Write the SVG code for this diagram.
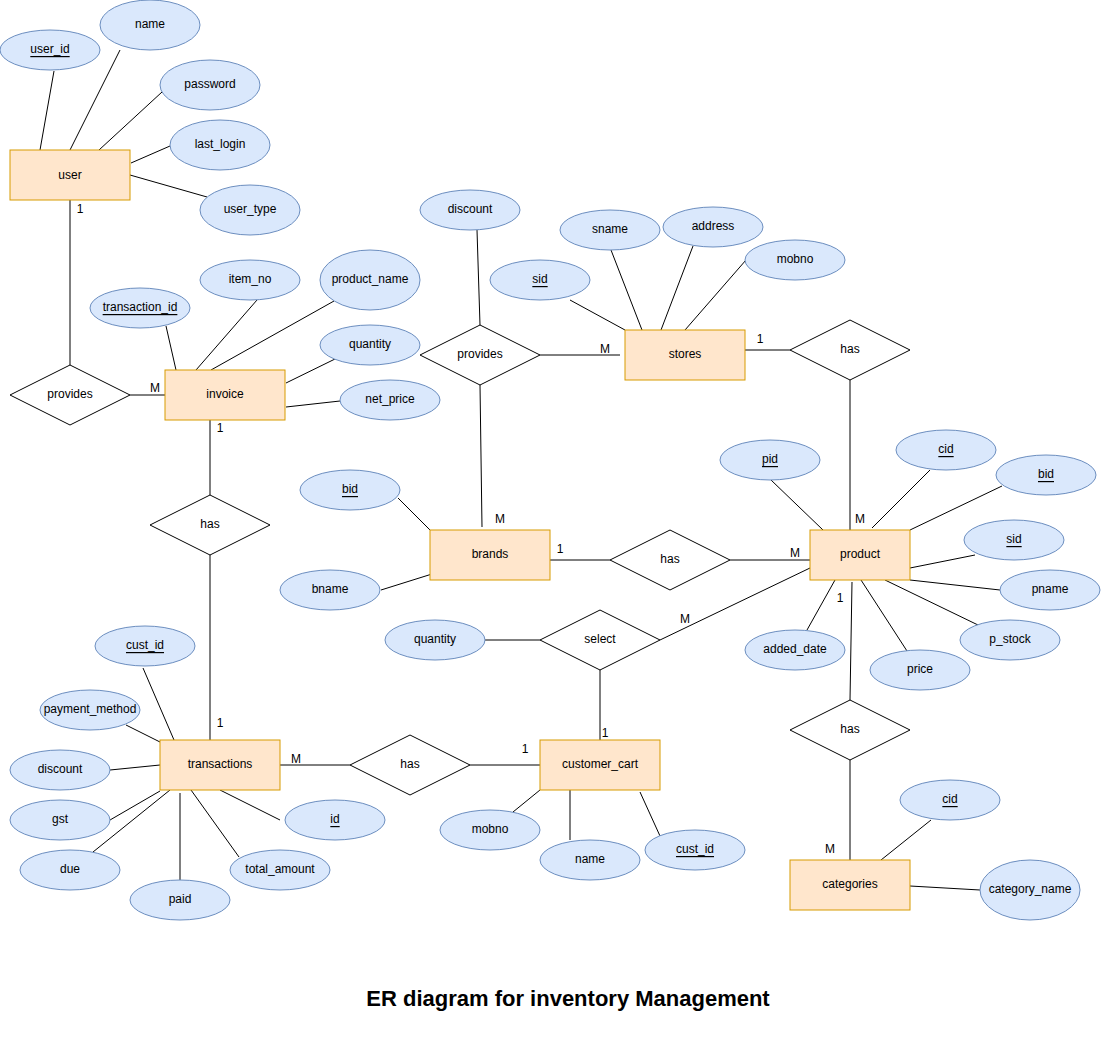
<svg xmlns="http://www.w3.org/2000/svg" width="1101" height="1061" viewBox="0 0 1101 1061">
<style>
.bg{fill:#ffffff}
.ent{fill:#ffe6cc;stroke:#d79b00;stroke-width:1}
.att{fill:#dae8fc;stroke:#6c8ebf;stroke-width:1}
.rel{fill:#ffffff;stroke:#000000;stroke-width:1}
.ln{stroke:#000000;stroke-width:1;fill:none}
text{font-family:"Liberation Sans",Arial,Helvetica,sans-serif;font-size:12px;fill:#000000;text-anchor:middle;dominant-baseline:central}
.key{text-decoration:underline}
.title{font-size:22px;font-weight:bold}
</style>
<rect class="bg" x="0" y="0" width="1101" height="1061"/>
<g id="connectors">
<!-- user attributes -->
<line class="ln" x1="54" y1="71" x2="40" y2="150"/>
<line class="ln" x1="120" y1="50" x2="70" y2="150"/>
<line class="ln" x1="162" y1="92" x2="99" y2="150"/>
<line class="ln" x1="170" y1="146" x2="131" y2="163"/>
<line class="ln" x1="207" y1="197" x2="130" y2="175"/>
<!-- user - provides - invoice -->
<line class="ln" x1="70" y1="200" x2="70" y2="365"/>
<line class="ln" x1="130" y1="395" x2="165" y2="395"/>
<!-- invoice attributes -->
<line class="ln" x1="166" y1="326" x2="176" y2="370"/>
<line class="ln" x1="257" y1="300" x2="196" y2="370"/>
<line class="ln" x1="334" y1="301" x2="211" y2="370"/>
<line class="ln" x1="335" y1="359" x2="286" y2="383"/>
<line class="ln" x1="340" y1="401" x2="286" y2="407"/>
<!-- invoice - has - transactions -->
<line class="ln" x1="210" y1="420" x2="210" y2="495"/>
<line class="ln" x1="210" y1="555" x2="210" y2="740"/>
<!-- transactions attributes -->
<line class="ln" x1="143" y1="668" x2="174" y2="740"/>
<line class="ln" x1="126" y1="725" x2="160" y2="742"/>
<line class="ln" x1="110" y1="770" x2="160" y2="765"/>
<line class="ln" x1="110" y1="820" x2="160" y2="791"/>
<line class="ln" x1="93" y1="852" x2="170" y2="790"/>
<line class="ln" x1="180" y1="880" x2="180" y2="793"/>
<line class="ln" x1="239" y1="857" x2="191" y2="790"/>
<line class="ln" x1="280" y1="820" x2="220" y2="790"/>
<!-- transactions - has - customer_cart -->
<line class="ln" x1="280" y1="765" x2="350" y2="765"/>
<line class="ln" x1="470" y1="765" x2="540" y2="765"/>
<!-- customer_cart attributes -->
<line class="ln" x1="513" y1="812" x2="540" y2="790"/>
<line class="ln" x1="570" y1="840" x2="570" y2="790"/>
<line class="ln" x1="660" y1="836" x2="640" y2="792"/>
<!-- customer_cart - select - product -->
<line class="ln" x1="600" y1="740" x2="600" y2="670"/>
<line class="ln" x1="485" y1="640" x2="540" y2="640"/>
<line class="ln" x1="660" y1="640" x2="810" y2="568"/>
<!-- stores -->
<line class="ln" x1="477" y1="230" x2="480" y2="325"/>
<line class="ln" x1="480" y1="385" x2="482" y2="527"/>
<line class="ln" x1="540" y1="355" x2="620" y2="355"/>
<line class="ln" x1="570" y1="300" x2="625" y2="330"/>
<line class="ln" x1="611" y1="250" x2="642" y2="330"/>
<line class="ln" x1="693" y1="246" x2="661" y2="330"/>
<line class="ln" x1="746" y1="260" x2="685" y2="330"/>
<line class="ln" x1="745" y1="350" x2="790" y2="350"/>
<line class="ln" x1="850" y1="380" x2="850" y2="530"/>
<!-- brands -->
<line class="ln" x1="398" y1="498" x2="430" y2="530"/>
<line class="ln" x1="381" y1="590" x2="432" y2="574"/>
<line class="ln" x1="550" y1="560" x2="610" y2="560"/>
<line class="ln" x1="730" y1="560" x2="810" y2="560"/>
<!-- product attributes -->
<line class="ln" x1="771" y1="480" x2="823" y2="530"/>
<line class="ln" x1="930" y1="470" x2="872" y2="528"/>
<line class="ln" x1="1002" y1="486" x2="910" y2="530"/>
<line class="ln" x1="975" y1="555" x2="910" y2="568"/>
<line class="ln" x1="1000" y1="590" x2="910" y2="580"/>
<line class="ln" x1="978" y1="625" x2="885" y2="580"/>
<line class="ln" x1="907" y1="651" x2="861" y2="580"/>
<line class="ln" x1="807" y1="630" x2="835" y2="580"/>
<!-- product - has - categories -->
<line class="ln" x1="852" y1="582" x2="850" y2="700"/>
<line class="ln" x1="850" y1="760" x2="850" y2="860"/>
<line class="ln" x1="931" y1="820" x2="881" y2="860"/>
<line class="ln" x1="980" y1="890" x2="910" y2="886"/>
</g>
<g id="user"><rect class="ent" x="10" y="150" width="120" height="50"/><text x="70" y="175">user</text></g>
<g id="user_id"><ellipse class="att" cx="50" cy="50" rx="50" ry="20"/><text class="key" x="50" y="49">user_id</text></g>
<g id="user_name"><ellipse class="att" cx="150" cy="25" rx="50" ry="25"/><text x="150" y="24">name</text></g>
<g id="password"><ellipse class="att" cx="210" cy="85" rx="50" ry="25"/><text x="210" y="84">password</text></g>
<g id="last_login"><ellipse class="att" cx="220" cy="145" rx="50" ry="25"/><text x="220" y="144">last_login</text></g>
<g id="user_type"><ellipse class="att" cx="250" cy="210" rx="50" ry="25"/><text x="250" y="209">user_type</text></g>
<g id="provides1"><polygon class="rel" points="70,365 130,395 70,425 10,395"/><text x="70" y="394">provides</text></g>
<g id="invoice"><rect class="ent" x="165" y="370" width="120" height="50"/><text x="225" y="394">invoice</text></g>
<g id="transaction_id"><ellipse class="att" cx="140" cy="308" rx="50" ry="20"/><text class="key" x="140" y="307">transaction_id</text></g>
<g id="item_no"><ellipse class="att" cx="250" cy="280" rx="50" ry="20"/><text x="250" y="279">item_no</text></g>
<g id="product_name"><ellipse class="att" cx="370" cy="280" rx="50" ry="30"/><text x="370" y="279">product_name</text></g>
<g id="inv_quantity"><ellipse class="att" cx="370" cy="345" rx="50" ry="20"/><text x="370" y="344">quantity</text></g>
<g id="net_price"><ellipse class="att" cx="390" cy="400" rx="50" ry="20"/><text x="390" y="399">net_price</text></g>
<g id="has_inv_trans"><polygon class="rel" points="210,495 270,525 210,555 150,525"/><text x="210" y="524">has</text></g>
<g id="transactions"><rect class="ent" x="160" y="740" width="120" height="50"/><text x="220" y="764">transactions</text></g>
<g id="t_cust_id"><ellipse class="att" cx="145" cy="646" rx="50" ry="20"/><text class="key" x="145" y="645">cust_id</text></g>
<g id="payment_method"><ellipse class="att" cx="90" cy="710" rx="50" ry="20"/><text x="90" y="709">payment_method</text></g>
<g id="t_discount"><ellipse class="att" cx="60" cy="770" rx="50" ry="20"/><text x="60" y="769">discount</text></g>
<g id="gst"><ellipse class="att" cx="60" cy="820" rx="50" ry="20"/><text x="60" y="819">gst</text></g>
<g id="due"><ellipse class="att" cx="70" cy="870" rx="50" ry="20"/><text x="70" y="869">due</text></g>
<g id="paid"><ellipse class="att" cx="180" cy="900" rx="50" ry="20"/><text x="180" y="899">paid</text></g>
<g id="total_amount"><ellipse class="att" cx="280" cy="870" rx="50" ry="20"/><text x="280" y="869">total_amount</text></g>
<g id="t_id"><ellipse class="att" cx="335" cy="820" rx="50" ry="20"/><text class="key" x="335" y="819">id</text></g>
<g id="has_trans_cart"><polygon class="rel" points="410,735 470,765 410,795 350,765"/><text x="410" y="764">has</text></g>
<g id="customer_cart"><rect class="ent" x="540" y="740" width="120" height="50"/><text x="600" y="764">customer_cart</text></g>
<g id="c_mobno"><ellipse class="att" cx="490" cy="830" rx="50" ry="20"/><text x="490" y="829">mobno</text></g>
<g id="c_name"><ellipse class="att" cx="590" cy="860" rx="50" ry="20"/><text x="590" y="859">name</text></g>
<g id="c_cust_id"><ellipse class="att" cx="695" cy="850" rx="50" ry="20"/><text class="key" x="695" y="849">cust_id</text></g>
<g id="select"><polygon class="rel" points="600,610 660,640 600,670 540,640"/><text x="600" y="639">select</text></g>
<g id="s_quantity"><ellipse class="att" cx="435" cy="640" rx="50" ry="20"/><text x="435" y="639">quantity</text></g>
<g id="discount"><ellipse class="att" cx="470" cy="210" rx="50" ry="20"/><text x="470" y="209">discount</text></g>
<g id="provides2"><polygon class="rel" points="480,325 540,355 480,385 420,355"/><text x="480" y="354">provides</text></g>
<g id="stores"><rect class="ent" x="625" y="330" width="120" height="50"/><text x="685" y="354">stores</text></g>
<g id="s_sid"><ellipse class="att" cx="540" cy="280" rx="50" ry="20"/><text class="key" x="540" y="279">sid</text></g>
<g id="sname"><ellipse class="att" cx="610" cy="230" rx="50" ry="20"/><text x="610" y="229">sname</text></g>
<g id="address"><ellipse class="att" cx="713" cy="227" rx="50" ry="20"/><text x="713" y="226">address</text></g>
<g id="s_mobno"><ellipse class="att" cx="795" cy="260" rx="50" ry="20"/><text x="795" y="259">mobno</text></g>
<g id="has_stores_product"><polygon class="rel" points="850,320 910,350 850,380 790,350"/><text x="850" y="349">has</text></g>
<g id="brands"><rect class="ent" x="430" y="530" width="120" height="50"/><text x="490" y="554">brands</text></g>
<g id="b_bid"><ellipse class="att" cx="350" cy="490" rx="50" ry="20"/><text class="key" x="350" y="489">bid</text></g>
<g id="bname"><ellipse class="att" cx="330" cy="590" rx="50" ry="20"/><text x="330" y="589">bname</text></g>
<g id="has_brands_product"><polygon class="rel" points="670,530 730,560 670,590 610,560"/><text x="670" y="559">has</text></g>
<g id="product"><rect class="ent" x="810" y="530" width="100" height="50"/><text x="860" y="554">product</text></g>
<g id="pid"><ellipse class="att" cx="770" cy="460" rx="50" ry="20"/><text class="key" x="770" y="459">pid</text></g>
<g id="p_cid"><ellipse class="att" cx="946" cy="450" rx="50" ry="20"/><text class="key" x="946" y="449">cid</text></g>
<g id="p_bid"><ellipse class="att" cx="1046" cy="475" rx="50" ry="20"/><text class="key" x="1046" y="474">bid</text></g>
<g id="p_sid"><ellipse class="att" cx="1014" cy="540" rx="50" ry="20"/><text class="key" x="1014" y="539">sid</text></g>
<g id="pname"><ellipse class="att" cx="1050" cy="590" rx="50" ry="20"/><text x="1050" y="589">pname</text></g>
<g id="p_stock"><ellipse class="att" cx="1010" cy="640" rx="50" ry="20"/><text x="1010" y="639">p_stock</text></g>
<g id="price"><ellipse class="att" cx="920" cy="670" rx="50" ry="20"/><text x="920" y="669">price</text></g>
<g id="added_date"><ellipse class="att" cx="795" cy="650" rx="50" ry="20"/><text x="795" y="649">added_date</text></g>
<g id="has_product_categories"><polygon class="rel" points="850,700 910,730 850,760 790,730"/><text x="850" y="729">has</text></g>
<g id="categories"><rect class="ent" x="790" y="860" width="120" height="50"/><text x="850" y="884">categories</text></g>
<g id="cat_cid"><ellipse class="att" cx="950" cy="800" rx="50" ry="20"/><text class="key" x="950" y="799">cid</text></g>
<g id="category_name"><ellipse class="att" cx="1030" cy="890" rx="50" ry="30"/><text x="1030" y="889">category_name</text></g>
<g id="cardinalities">
<text x="80" y="209">1</text>
<text x="155" y="388">M</text>
<text x="220" y="428">1</text>
<text x="220" y="723">1</text>
<text x="296" y="759">M</text>
<text x="525" y="749">1</text>
<text x="605" y="733">1</text>
<text x="685" y="619">M</text>
<text x="605" y="349">M</text>
<text x="760" y="339">1</text>
<text x="860" y="519">M</text>
<text x="500" y="519">M</text>
<text x="560" y="549">1</text>
<text x="795" y="553">M</text>
<text x="840" y="598">1</text>
<text x="830" y="849">M</text>
</g>
<text class="title" x="568" y="998">ER diagram for inventory Management</text>
</svg>
